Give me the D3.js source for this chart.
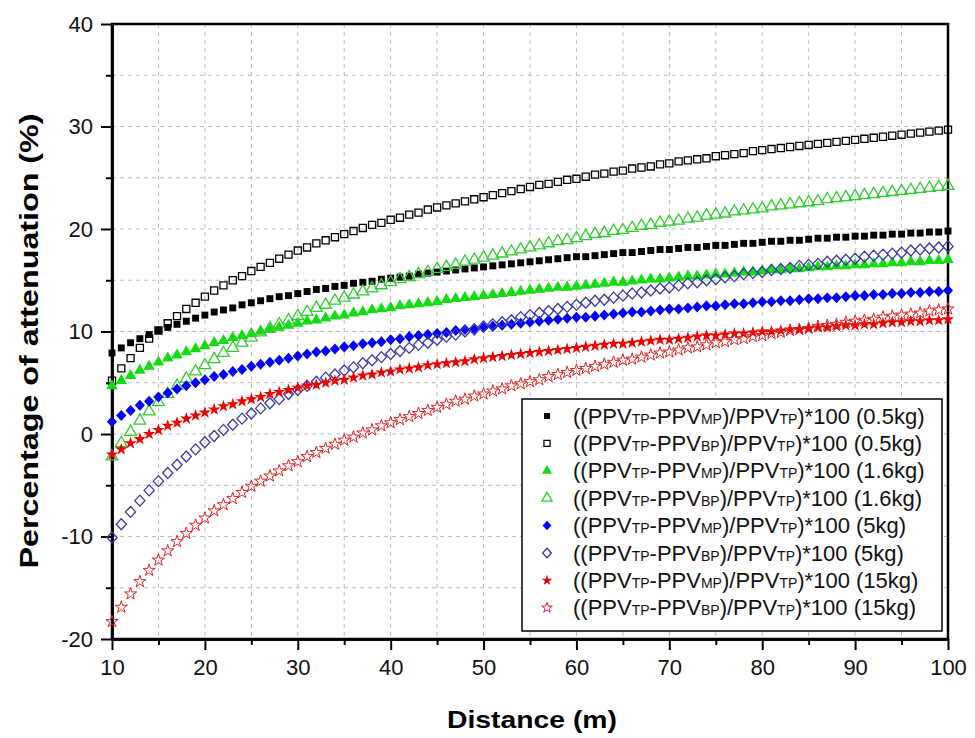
<!DOCTYPE html>
<html>
<head>
<meta charset="utf-8">
<script src="https://cdn.jsdelivr.net/npm/d3@7"></script>
<style>
  body { margin: 0; background: #fff; }
  svg { display: block; font-family: "Liberation Sans", Arial, sans-serif; }
</style>
</head>
<body>
<div id="chart"></div>
<script>
var width = 975;
var height = 738;

// distance (m)
var distance = [10,11,12,13,14,15,16,17,18,19,20,21,22,23,24,25,26,27,28,29,30,31,32,33,34,35,36,37,38,39,40,41,42,43,44,45,46,47,48,49,50,51,52,53,54,55,56,57,58,59,60,61,62,63,64,65,66,67,68,69,70,71,72,73,74,75,76,77,78,79,80,81,82,83,84,85,86,87,88,89,90,91,92,93,94,95,96,97,98,99,100];

// percentage of attenuation, one array per series
var mp05 = [7.9,8.4,8.9,9.3,9.7,10.1,10.4,10.7,11.0,11.3, 11.6,11.9,12.1,12.3,12.6,12.8,13.0,13.2,13.4,13.5, 13.7,13.9,14.1,14.2,14.4,14.5,14.7,14.8,14.9,15.1, 15.2,15.3,15.4,15.6,15.7,15.8,15.9,16.0,16.1,16.2, 16.3,16.4,16.5,16.6,16.7,16.8,16.9,17.0,17.1,17.2, 17.3,17.3,17.4,17.5,17.6,17.7,17.7,17.8,17.9,18.0, 18.0,18.1,18.2,18.2,18.3,18.4,18.4,18.5,18.6,18.6, 18.7,18.8,18.8,18.9,18.9,19.0,19.1,19.1,19.2,19.2, 19.3,19.3,19.4,19.4,19.5,19.5,19.6,19.6,19.7,19.7, 19.8];
var bp05 = [5.2,6.4,7.4,8.4,9.3,10.1,10.8,11.5,12.2,12.8, 13.4,14.0,14.5,15.0,15.4,15.9,16.3,16.7,17.1,17.5, 17.9,18.2,18.6,18.9,19.2,19.5,19.8,20.1,20.4,20.6, 20.9,21.1,21.4,21.6,21.9,22.1,22.3,22.5,22.7,22.9, 23.1,23.3,23.5,23.7,23.9,24.1,24.3,24.4,24.6,24.8, 24.9,25.1,25.3,25.4,25.6,25.7,25.9,26.0,26.1,26.3, 26.4,26.6,26.7,26.8,26.9,27.1,27.2,27.3,27.4,27.6, 27.7,27.8,27.9,28.0,28.1,28.2,28.3,28.4,28.5,28.6, 28.7,28.8,28.9,29.0,29.1,29.2,29.3,29.4,29.5,29.6, 29.7];
var mp16 = [4.7,5.2,5.7,6.2,6.6,7.0,7.4,7.7,8.0,8.3, 8.6,8.9,9.1,9.4,9.6,9.8,10.0,10.2,10.4,10.6, 10.8,11.0,11.1,11.3,11.5,11.6,11.8,11.9,12.1,12.2, 12.3,12.5,12.6,12.7,12.8,12.9,13.1,13.2,13.3,13.4, 13.5,13.6,13.7,13.8,13.9,14.0,14.1,14.2,14.3,14.3, 14.4,14.5,14.6,14.7,14.8,14.8,14.9,15.0,15.1,15.1, 15.2,15.3,15.4,15.4,15.5,15.6,15.6,15.7,15.8,15.8, 15.9,16.0,16.0,16.1,16.1,16.2,16.3,16.3,16.4,16.4, 16.5,16.5,16.6,16.6,16.7,16.7,16.8,16.8,16.9,16.9, 17.0];
var bp16 = [-2.2,-0.9,0.2,1.3,2.2,3.1,3.9,4.7,5.4,6.1, 6.7,7.3,7.9,8.4,8.9,9.4,9.9,10.3,10.7,11.1, 11.5,11.9,12.3,12.6,13.0,13.3,13.6,13.9,14.2,14.5, 14.8,15.1,15.3,15.6,15.8,16.1,16.3,16.5,16.8,17.0, 17.2,17.4,17.6,17.8,18.0,18.2,18.4,18.6,18.8,18.9, 19.1,19.3,19.5,19.6,19.8,19.9,20.1,20.3,20.4,20.6, 20.7,20.8,21.0,21.1,21.3,21.4,21.5,21.7,21.8,21.9, 22.0,22.2,22.3,22.4,22.5,22.6,22.7,22.9,23.0,23.1, 23.2,23.3,23.4,23.5,23.6,23.7,23.8,23.9,24.0,24.1, 24.2];
var mp5 = [1.2,1.8,2.3,2.8,3.2,3.6,4.0,4.4,4.7,5.0, 5.3,5.6,5.8,6.1,6.3,6.6,6.8,7.0,7.2,7.4, 7.6,7.8,8.0,8.1,8.3,8.5,8.6,8.8,8.9,9.0, 9.2,9.3,9.5,9.6,9.7,9.8,9.9,10.1,10.2,10.3, 10.4,10.5,10.6,10.7,10.8,10.9,11.0,11.1,11.2,11.3, 11.4,11.4,11.5,11.6,11.7,11.8,11.9,11.9,12.0,12.1, 12.2,12.2,12.3,12.4,12.5,12.5,12.6,12.7,12.7,12.8, 12.9,12.9,13.0,13.0,13.1,13.2,13.2,13.3,13.3,13.4, 13.5,13.5,13.6,13.6,13.7,13.7,13.8,13.8,13.9,13.9, 14.0];
var bp5 = [-10.1,-8.8,-7.6,-6.5,-5.5,-4.6,-3.8,-3.0,-2.2,-1.5, -0.8,-0.2,0.4,0.9,1.5,2.0,2.5,3.0,3.4,3.9, 4.3,4.7,5.1,5.5,5.8,6.2,6.5,6.9,7.2,7.5, 7.8,8.1,8.4,8.7,8.9,9.2,9.5,9.7,10.0,10.2, 10.5,10.7,10.9,11.1,11.4,11.6,11.8,12.0,12.2,12.4, 12.6,12.8,13.0,13.1,13.3,13.5,13.7,13.8,14.0,14.2, 14.3,14.5,14.7,14.8,15.0,15.1,15.3,15.4,15.6,15.7, 15.8,16.0,16.1,16.2,16.4,16.5,16.6,16.8,16.9,17.0, 17.1,17.3,17.4,17.5,17.6,17.7,17.9,18.0,18.1,18.2, 18.3];
var mp15 = [-2.0,-1.5,-0.9,-0.5,0.0,0.4,0.8,1.1,1.5,1.8, 2.1,2.4,2.7,2.9,3.2,3.4,3.6,3.9,4.1,4.3, 4.5,4.7,4.8,5.0,5.2,5.3,5.5,5.7,5.8,6.0, 6.1,6.3,6.4,6.5,6.7,6.8,6.9,7.0,7.1,7.3, 7.4,7.5,7.6,7.7,7.8,7.9,8.0,8.1,8.2,8.3, 8.4,8.5,8.6,8.7,8.8,8.8,8.9,9.0,9.1,9.2, 9.2,9.3,9.4,9.5,9.6,9.6,9.7,9.8,9.8,9.9, 10.0,10.0,10.1,10.2,10.2,10.3,10.4,10.4,10.5,10.6, 10.6,10.7,10.7,10.8,10.9,10.9,11.0,11.0,11.1,11.1, 11.2];
var bp15 = [-18.3,-16.9,-15.6,-14.4,-13.3,-12.3,-11.4,-10.5,-9.7,-8.9, -8.2,-7.5,-6.9,-6.3,-5.7,-5.1,-4.6,-4.1,-3.6,-3.1, -2.7,-2.2,-1.8,-1.4,-1.0,-0.6,-0.3,0.1,0.4,0.8, 1.1,1.4,1.7,2.0,2.3,2.6,2.9,3.2,3.4,3.7, 3.9,4.2,4.4,4.7,4.9,5.1,5.3,5.6,5.8,6.0, 6.2,6.4,6.6,6.8,7.0,7.2,7.3,7.5,7.7,7.9, 8.0,8.2,8.4,8.5,8.7,8.9,9.0,9.2,9.3,9.5, 9.6,9.8,9.9,10.1,10.2,10.3,10.5,10.6,10.7,10.9, 11.0,11.1,11.2,11.4,11.5,11.6,11.7,11.8,12.0,12.1, 12.2];

var seriesNames = ['MP', 'BP', 'MP', 'BP', 'MP', 'BP', 'MP', 'BP'];
var seriesMass = ['0.5kg', '0.5kg', '1.6kg', '1.6kg', '5kg', '5kg', '15kg', '15kg'];
var xTicks = [10, 20, 30, 40, 50, 60, 70, 80, 90, 100];
var yTicks = [-20, -10, 0, 10, 20, 30, 40];

// marker style per series
var styles = [
    {shape: 'square', fill: '#000000', stroke: 'none', size: 48},
    {shape: 'square', fill: 'none', stroke: '#000000', size: 50},
    {shape: 'triangle', fill: '#11dd11', stroke: 'none', size: 58},
    {shape: 'triangle', fill: 'none', stroke: '#33cc33', size: 60},
    {shape: 'diamond', fill: '#0000ff', stroke: 'none', size: 52},
    {shape: 'diamond', fill: 'none', stroke: '#3a3aa8', size: 52},
    {shape: 'star', fill: '#ee0000', stroke: 'none', size: 48},
    {shape: 'star', fill: 'none', stroke: '#dd2222', size: 46}
];

var allSeries = [mp05, bp05, mp16, bp16, mp5, bp5, mp15, bp15];

var plot = {left: 112, right: 948, top: 24, bottom: 639};

var svg = d3.select('#chart')
    .append('svg')
    .attr('width', width)
    .attr('height', height);

var xScale = d3.scaleLinear()
    .domain([10, 100])
    .range([plot.left, plot.right]);

var yScale = d3.scaleLinear()
    .domain([-20, 40])
    .range([plot.bottom, plot.top]);

// grid lines every 5
var gridX = d3.range(15, 100, 5);
var gridY = d3.range(-15, 40, 5);

svg.append('g')
    .selectAll('line')
    .data(gridX)
    .enter()
    .append('line')
    .attr('x1', d => xScale(d))
    .attr('x2', d => xScale(d))
    .attr('y1', plot.top)
    .attr('y2', plot.bottom)
    .attr('stroke', '#bdbdbd')
    .attr('stroke-width', 1)
    .attr('stroke-dasharray', '4,4');

svg.append('g')
    .selectAll('line')
    .data(gridY)
    .enter()
    .append('line')
    .attr('x1', plot.left)
    .attr('x2', plot.right)
    .attr('y1', d => yScale(d))
    .attr('y2', d => yScale(d))
    .attr('stroke', '#bdbdbd')
    .attr('stroke-width', 1)
    .attr('stroke-dasharray', '4,4');

// axes (plain hyphen for negatives, like the original)
var fmt = d => String(d);
var xAxis = d3.axisBottom(xScale).tickValues(xTicks).tickSize(11).tickSizeOuter(0).tickPadding(9).tickFormat(fmt);
var xMinor = d3.axisBottom(xScale).tickValues(d3.range(15, 100, 10)).tickSize(6).tickSizeOuter(0).tickFormat('');
var yAxis = d3.axisLeft(yScale).tickValues(yTicks).tickSize(11).tickSizeOuter(0).tickPadding(8).tickFormat(fmt);
var yMinor = d3.axisLeft(yScale).tickValues(d3.range(-15, 40, 10)).tickSize(6).tickSizeOuter(0).tickFormat('');

[xAxis, xMinor].forEach(ax => {
    svg.append('g')
        .attr('class', 'axis')
        .attr('transform', 'translate(0,' + plot.bottom + ')')
        .call(ax);
});
[yAxis, yMinor].forEach(ax => {
    svg.append('g')
        .attr('class', 'axis')
        .attr('transform', 'translate(' + plot.left + ',0)')
        .call(ax);
});

svg.selectAll('.axis path').attr('stroke', '#000').attr('stroke-width', 2.5);
svg.selectAll('.axis line').attr('stroke', '#000').attr('stroke-width', 2);
svg.selectAll('.axis text')
    .attr('font-family', '"Liberation Sans", Arial, sans-serif')
    .attr('font-size', 22)
    .attr('fill', '#111');

// frame
svg.append('rect')
    .attr('x', plot.left)
    .attr('y', plot.top)
    .attr('width', plot.right - plot.left)
    .attr('height', plot.bottom - plot.top)
    .attr('fill', 'none')
    .attr('stroke', '#000')
    .attr('stroke-width', 2.5);

// marker shapes
var shapePath = (shape, size) => {
    if (shape === 'square') return d3.symbol().type(d3.symbolSquare).size(size)();
    if (shape === 'triangle') return d3.symbol().type(d3.symbolTriangle).size(size)();
    if (shape === 'star') return d3.symbol().type(d3.symbolStar).size(size)();
    // diamond as a square turned 45 degrees
    var r = Math.sqrt(size * 2) / 2;
    return 'M0,' + (-r * 1.08) + 'L' + r + ',0L0,' + (r * 1.08) + 'L' + (-r) + ',0Z';
};

var drawMarker = (sel, st) => {
    sel.attr('d', shapePath(st.shape, st.size))
        .attr('fill', st.fill)
        .attr('stroke', st.stroke)
        .attr('stroke-width', st.fill === 'none' ? (st.shape === 'star' ? 1 : 1.3) : 0);
};

allSeries.forEach((values, i) => {
    var st = styles[i];
    var pts = distance.map((d, j) => ({x: d, y: values[j]}));
    svg.append('g')
        .selectAll('path')
        .data(pts)
        .enter()
        .append('path')
        .attr('transform', d => 'translate(' + xScale(d.x) + ',' + yScale(d.y) + ')')
        .call(drawMarker, st);
});

// legend
var legend = svg.append('g');
legend.append('rect')
    .attr('x', 522)
    .attr('y', 399)
    .attr('width', 420)
    .attr('height', 232)
    .attr('fill', '#fff')
    .attr('stroke', '#000')
    .attr('stroke-width', 1.5);

seriesNames.forEach((name, i) => {
    var cy = 416 + i * 27.4;
    var st = styles[i];
    legend.append('path')
        .attr('transform', 'translate(547,' + cy + ')')
        .call(drawMarker, {shape: st.shape, fill: st.fill, stroke: st.stroke, size: st.size * 0.75});

    var t = legend.append('text')
        .attr('x', 573)
        .attr('y', cy + 7.5)
        .attr('font-size', 22)
        .attr('fill', '#111');
    t.append('tspan').text('((PPV');
    t.append('tspan').attr('font-size', 14).text('TP');
    t.append('tspan').text('-PPV');
    t.append('tspan').attr('font-size', 14).text(name);
    t.append('tspan').text(')/PPV');
    t.append('tspan').attr('font-size', 14).text('TP');
    t.append('tspan').text(')*100 (' + seriesMass[i] + ')');
});

// axis titles
svg.append('text')
    .attr('x', 532)
    .attr('y', 728)
    .attr('text-anchor', 'middle')
    .attr('font-size', 23)
    .attr('font-weight', 'bold')
    .attr('textLength', 170)
    .attr('lengthAdjust', 'spacingAndGlyphs')
    .text('Distance (m)');

svg.append('text')
    .attr('transform', 'translate(38,341) rotate(-90)')
    .attr('text-anchor', 'middle')
    .attr('font-size', 25)
    .attr('font-weight', 'bold')
    .attr('textLength', 455)
    .attr('lengthAdjust', 'spacingAndGlyphs')
    .text('Percentage of attenuation (%)');
</script>
</body>
</html>
